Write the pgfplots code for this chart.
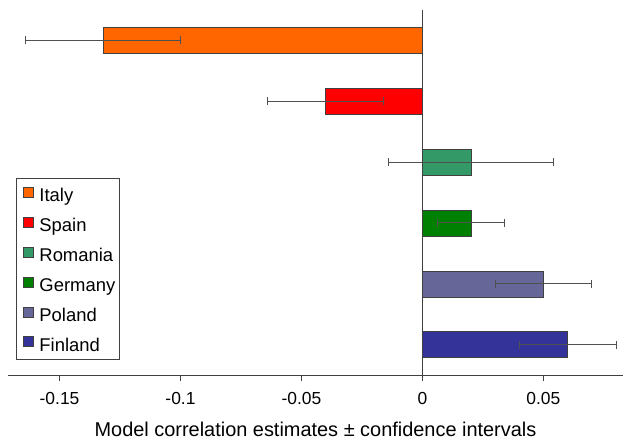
\documentclass[border=0pt]{standalone}
\usepackage{fontspec}
\setmainfont{Liberation Sans}
\usepackage{pgfplots}
\pgfplotsset{compat=1.18}
\definecolor{cItaly}{HTML}{FF6600}
\definecolor{cSpain}{HTML}{FF0000}
\definecolor{cRomania}{HTML}{339966}
\definecolor{cGermany}{HTML}{008000}
\definecolor{cPoland}{HTML}{666699}
\definecolor{cFinland}{HTML}{333399}
\definecolor{axgray}{HTML}{404040}
\definecolor{errgray}{HTML}{505050}
\begin{document}
\begin{tikzpicture}
\useasboundingbox (-8bp,-67bp) rectangle (615bp,375bp);
\begin{axis}[
  scale only axis, width=615bp, height=365bp,
  xmin=-0.1713, xmax=0.0829, ymin=0.5, ymax=6.5,
  axis x line=bottom, axis y line=none,
  x axis line style={-, draw=axgray, line width=0.9bp},
  xtick={-0.15,-0.1,-0.05,0,0.05},
  xticklabels={-0.15,-0.1,-0.05,0,0.05},
  tick align=outside, major tick length=6bp,
  tick style={draw=axgray, line width=0.9bp},
  xticklabel style={font=\fontsize{17.5}{21}\selectfont, yshift=-8bp},
  xlabel={Model correlation estimates ± confidence intervals},
  xlabel style={font=\fontsize{20}{23}\selectfont, yshift=-10bp},
  xbar, bar width=26bp, bar shift=0pt,
  error bars/x dir=both, error bars/x explicit,
  error bars/error bar style={draw=errgray, line width=0.9bp},
  error bars/error mark=|,
  error bars/error mark options={draw=errgray, line width=0.9bp, mark size=4bp},
  legend style={at={(0.013,0.041)}, anchor=south west, draw=axgray, line width=0.9bp,
    font=\fontsize{18.5}{22}\selectfont, row sep=2.2bp, inner sep=2bp, column sep=0bp,
    nodes={inner sep=2bp, text height=19.3bp, text depth=4.4bp}},
  legend cell align=left,
  legend image code/.code={\path[draw=none,fill=none] (0bp,0bp) -- (19bp,0bp);\draw[#1, draw=axgray, line width=0.6bp] (5bp,-3bp) rectangle (15bp,7bp);},
]
\addplot[fill=cItaly, draw=axgray] coordinates {(-0.132,6) +- (0.032,0)};
\addlegendentry{Italy}
\addplot[fill=cSpain, draw=axgray] coordinates {(-0.040,5) +- (0.024,0)};
\addlegendentry{Spain}
\addplot[fill=cRomania, draw=axgray] coordinates {(0.020,4) +- (0.034,0)};
\addlegendentry{Romania}
\addplot[fill=cGermany, draw=axgray] coordinates {(0.020,3) +- (0.014,0)};
\addlegendentry{Germany}
\addplot[fill=cPoland, draw=axgray] coordinates {(0.050,2) +- (0.020,0)};
\addlegendentry{Poland}
\addplot[fill=cFinland, draw=axgray] coordinates {(0.060,1) +- (0.020,0)};
\addlegendentry{Finland}
\draw[axgray, line width=0.9bp] (axis cs:0,0.5) -- (axis cs:0,6.5);
\end{axis}
\end{tikzpicture}
\end{document}
